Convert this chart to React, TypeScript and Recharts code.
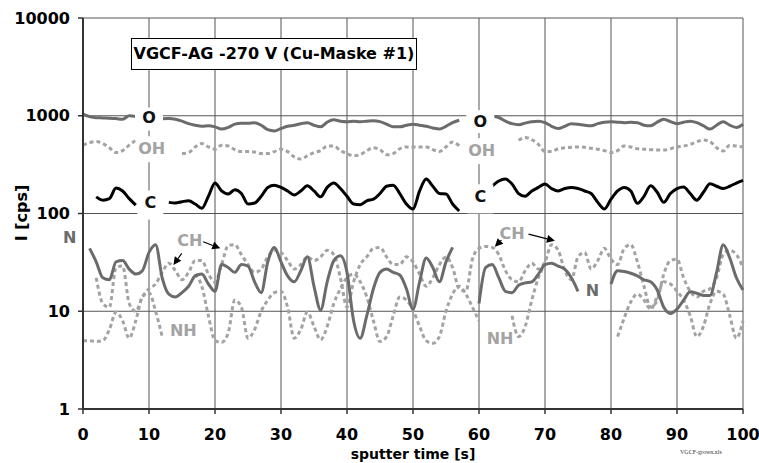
import {
  LineChart,
  Line,
  XAxis,
  YAxis,
  CartesianGrid,
  ReferenceDot,
  ReferenceLine,
} from "recharts";

// sputter time axis (s) and intensity decades (cps)
const timeTicks = [0, 10, 20, 30, 40, 50, 60, 70, 80, 90, 100];
const countTicks = [1, 10, 100, 1000, 10000];

// one sample per second, 0..100 s; null = trace interrupted by a label
const oxygen = [
  1040, 980, 955, 950, 945, 935, 920, 1000, 985, null,
  null, null, 930, 935, 920, 880, 830, 800, 780, 790,
  770, 730, 760, 820, 840, 840, 850, 800, 720, 700,
  740, 780, 800, 830, 850, 800, 770, 860, 910, 880,
  870, 880, 870, 880, 890, 870, 820, 770, 770, 800,
  820, 800, 780, 750, 730, 780, 850, 900, null, null,
  null, null, 990, 960, 880, 830, 810, 840, 870, 880,
  850, 780, 740, 780, 830, 820, 800, 790, 830, 860,
  870, 860, 850, 860, 850, 800, 790, 860, 920, 870,
  830, 860, 880, 850, 790, 730, 800, 870, 800, 760,
  820,
];

const hydroxyl = [
  500, 530, 545, 520, 470, 420, 440, 500, 560, null,
  null, null, null, null, null, 410, 420, 480, 520, 480,
  455, 500, 490, 450, 430, 430, 425, 410, 410, 430,
  455, 430, 380, 360, 390, 420, 440, 490, 490, 440,
  410, 390, 400, 440, 470, 450, 400, 410, 460, 480,
  480, 480, 480, 450, 430, 480, 540, 490, null, null,
  null, null, null, null, null, null, 560, 600, 570, 510,
  430, 430, 460, 470, 475, 480, 475, 465, 455, 440,
  420, 440, 490, 480, 460, 455, 450, 445, 445, 460,
  480, 490, 510, 540, 565, 545, 470, 435, 500, 490,
  480,
];

const carbon = [
  null, null, 148, 137, 142, 182, 170, 142, 122, null,
  null, null, null, 130, 128, 132, 135, 125, 113, 150,
  205, 170, 158, 175, 160, 125, 128, 150, 185, 195,
  185, 170, 155, 170, 192, 170, 148, 185, 205, 180,
  150, 125, 123, 135, 140, 160, 190, 195, 160, 125,
  111, 170, 225, 190, 160, 158, 125, 106, null, null,
  null, null, 190, 215, 225, 200, 160, 150, 170, 185,
  200, 180, 170, 180, 185, 180, 170, 160, 130, 111,
  140, 170, 185, 170, 127, 150, 192, 165, 130, 160,
  180, 187, 160, 137, 165, 202, 190, 180, 190, 205,
  218,
];

const nitrogen = [
  null, 44, 32, 22, 21, 32, 33, 27, 24, 26,
  40, 48, 22, 15, 14, 15.5, 18, 23, 24, 19,
  16, 30, 28, 25, 30, 29, 20, 15.5, 32, 45,
  32, 23, 20, 26, 36, 18, 10.3, 20, 33, 37,
  25, 8, 5.3, 9, 17, 25, 27, 25, 23.5, 17,
  10.5, 20, 35, 28, 20, 32, 45, null, null, null,
  12, 28, 30, 22, 16, 15.5, 18.5, 19.5, 20, 24,
  30, 31, 29, 27, 22, 16, null, null, null, null,
  19, 26, 25.5, 24.5, 23, 21, 20, 16.5, 11, 9.5,
  10.5, 13, 15.8, 15.3, 14.5, 14.5, 25, 48, 35, 22,
  16.5,
];

const carbonHydride = [
  null, null, 22, 12, 11, 28, 29, 12, 10, 14,
  17, 19, 25, 31, 26, 21, 25, 33, 33, 24,
  20, 30, 47, 48, 38, 30, 25, 27, 36, 42,
  40, 33, 27, 30, 36, 33, 36, 42, 38, 22,
  11, 20, 30, 36, 44, 45, 36, 30, 30, 36,
  32, 24, 18, 22, 30, 36, 28, 17, 16, 34,
  44, 46, 45, 38, 26, 21, 20, 26, 31, 27,
  32, 48, 42, 26, 21, 36, 40, 27, 33, 44,
  34, 30, 44, 48, 32, 18, 11, 13, 24, 33,
  34, 22, 16, 14, 16, 17, 22, 38, 42, 38,
  28,
];

const nitrogenHydride = [
  5, 5, 4.9, 5, 6.5, 9.8, 8, 5.3, 8, 14,
  15.5, 10, 5.5, null, null, null, null, 24, 18, 9,
  5, 4.8, 6, 13, 11, 5.3, 6.5, 10, 13, 15.5,
  16, 11, 5.3, 6.5, 9.8, 7, 5.1, 7, 12, 17,
  22, 24, 20, 14, 8, 4.9, 5.5, 9, 14, 13,
  10.3, 7, 5, 4.7, 5.5, 10, 15, 18, 15, 11,
  8, null, null, null, null, 9, 5.5, 7, 13, 22,
  30, null, null, null, null, null, null, null, null, null,
  null, 5.5, 8.5, 12.5, 15, 13, 10.5, 14, 20, 19,
  16, 13, 9, 5.5, 7, 12, 16, 15, 9, 5.3,
  8,
];

const rows = oxygen.map((o, i) => ({
  t: i,
  O: o,
  OH: hydroxyl[i],
  C: carbon[i],
  N: nitrogen[i],
  CH: carbonHydride[i],
  NH: nitrogenHydride[i],
}));

const FONT = "DejaVu Sans";
const DARK = "#6b6b6b";
const LIGHT = "#a3a3a3";

const tag =
  (text: string, color: string, boxW = 0, boxH = 0, boxDy = 0) =>
  (p: any) => (
    <g>
      {boxW > 0 && (
        <rect
          x={p.cx - boxW / 2}
          y={p.cy - boxH / 2 + boxDy}
          width={boxW}
          height={boxH}
          fill="#fff"
        />
      )}
      <text
        x={p.cx}
        y={p.cy}
        textAnchor="middle"
        dominantBaseline="central"
        fill={color}
        fontSize={16}
        fontWeight="bold"
        fontFamily={FONT}
      >
        {text}
      </text>
    </g>
  );

const arrow = (p: any) => {
  const { x1, y1, x2, y2 } = p;
  const dx = x2 - x1;
  const dy = y2 - y1;
  const len = Math.hypot(dx, dy) || 1;
  const ux = dx / len;
  const uy = dy / len;
  const bx = x2 - ux * 8;
  const by = y2 - uy * 8;
  return (
    <g>
      <line x1={x1} y1={y1} x2={bx} y2={by} stroke="#000" strokeWidth={1.2} />
      <polygon
        points={`${x2},${y2} ${bx - uy * 4},${by + ux * 4} ${bx + uy * 4},${by - ux * 4}`}
        fill="#000"
      />
    </g>
  );
};

const tickStyle = { fontSize: 16, fontWeight: "bold", fill: "#000", fontFamily: FONT };

export default function App() {
  return (
    <div
      style={{
        position: "absolute",
        left: 0,
        top: 0,
        width: 759,
        height: 463,
        background: "#fff",
        fontFamily: FONT,
      }}
    >
      <LineChart width={759} height={463} data={rows} margin={{ top: 18, right: 16, bottom: 0, left: 0 }}>
        <CartesianGrid stroke="#555" strokeWidth={1} />
        <XAxis
          dataKey="t"
          type="number"
          domain={[0, 100]}
          ticks={timeTicks}
          height={54}
          tickSize={5}
          tickMargin={15}
          tick={tickStyle}
          axisLine={{ stroke: "#333", strokeWidth: 2 }}
          tickLine={{ stroke: "#333", strokeWidth: 1.5 }}
        />
        <YAxis
          scale="log"
          domain={[1, 10000]}
          ticks={countTicks}
          allowDataOverflow
          width={83}
          tickSize={5}
          tickMargin={8}
          tick={tickStyle}
          axisLine={{ stroke: "#333", strokeWidth: 2 }}
          tickLine={{ stroke: "#333", strokeWidth: 1.5 }}
        />

        <Line type="monotone" dataKey="OH" stroke={LIGHT} strokeWidth={3} strokeDasharray="4 3" dot={false} activeDot={false} isAnimationActive={false} />
        <Line type="monotone" dataKey="CH" stroke={LIGHT} strokeWidth={3} strokeDasharray="4 3" dot={false} activeDot={false} isAnimationActive={false} />
        <Line type="monotone" dataKey="NH" stroke={LIGHT} strokeWidth={3} strokeDasharray="4 3" dot={false} activeDot={false} isAnimationActive={false} />
        <Line type="monotone" dataKey="O" stroke={DARK} strokeWidth={3} dot={false} activeDot={false} isAnimationActive={false} />
        <Line type="monotone" dataKey="N" stroke={DARK} strokeWidth={3} dot={false} activeDot={false} isAnimationActive={false} />
        <Line type="monotone" dataKey="C" stroke="#000" strokeWidth={3} dot={false} activeDot={false} isAnimationActive={false} />

        {/* species names on the traces */}
        <ReferenceDot x={10} y={970} r={0} ifOverflow="visible" shape={tag("O", "#111", 28, 23, 2)} />
        <ReferenceDot x={10.4} y={465} r={0} ifOverflow="visible" shape={tag("OH", LIGHT, 32, 26, 1)} />
        <ReferenceDot x={10.2} y={131} r={0} ifOverflow="visible" shape={tag("C", "#111", 26, 29, 3)} />
        <ReferenceDot x={60.2} y={870} r={0} ifOverflow="visible" shape={tag("O", "#111", 28, 23, 0)} />
        <ReferenceDot x={60.4} y={445} r={0} ifOverflow="visible" shape={tag("OH", LIGHT, 32, 26, 1)} />
        <ReferenceDot x={60.2} y={148} r={0} ifOverflow="visible" shape={tag("C", "#111", 26, 29, 2)} />
        <ReferenceDot x={-2} y={57} r={0} ifOverflow="visible" shape={tag("N", DARK)} />
        <ReferenceDot x={77.2} y={16.2} r={0} ifOverflow="visible" shape={tag("N", DARK)} />
        <ReferenceDot x={16.2} y={53} r={0} ifOverflow="visible" shape={tag("CH", LIGHT)} />
        <ReferenceDot x={65} y={63} r={0} ifOverflow="visible" shape={tag("CH", LIGHT)} />
        <ReferenceDot x={15.2} y={6.4} r={0} ifOverflow="visible" shape={tag("NH", LIGHT)} />
        <ReferenceDot x={63.2} y={5.3} r={0} ifOverflow="visible" shape={tag("NH", LIGHT)} />

        {/* pointers from the CH names to their trace */}
        <ReferenceLine segment={[{ x: 14.95, y: 39 }, { x: 13.7, y: 29.7 }]} shape={arrow} />
        <ReferenceLine segment={[{ x: 18.2, y: 51.4 }, { x: 20.8, y: 44 }]} shape={arrow} />
        <ReferenceLine segment={[{ x: 63.4, y: 53.5 }, { x: 62.4, y: 45.7 }]} shape={arrow} />
        <ReferenceLine segment={[{ x: 67.5, y: 61.6 }, { x: 71.5, y: 52.6 }]} shape={arrow} />
      </LineChart>

      <div
        style={{
          position: "absolute",
          left: 131,
          top: 38,
          width: 284,
          height: 30,
          border: "1px solid #000",
          background: "#fff",
          fontSize: 16,
          fontWeight: "bold",
          lineHeight: "30px",
          textAlign: "center",
          whiteSpace: "nowrap",
        }}
      >
        VGCF-AG -270 V (Cu-Maske #1)
      </div>

      <div
        style={{
          position: "absolute",
          left: 21,
          top: 213,
          transform: "translate(-50%, -50%) rotate(-90deg)",
          fontSize: 16,
          fontWeight: "bold",
          whiteSpace: "nowrap",
        }}
      >
        I [cps]
      </div>

      <div
        style={{
          position: "absolute",
          left: 313,
          top: 448,
          width: 200,
          fontSize: 14,
          lineHeight: "13px",
          fontWeight: "bold",
          textAlign: "center",
          whiteSpace: "nowrap",
        }}
      >
        sputter time [s]
      </div>

      <div
        style={{
          position: "absolute",
          left: 680,
          top: 449,
          fontSize: 6,
          fontFamily: "Liberation Serif",
          color: "#333",
          whiteSpace: "nowrap",
        }}
      >
        VGCF-grown.xls
      </div>
    </div>
  );
}
